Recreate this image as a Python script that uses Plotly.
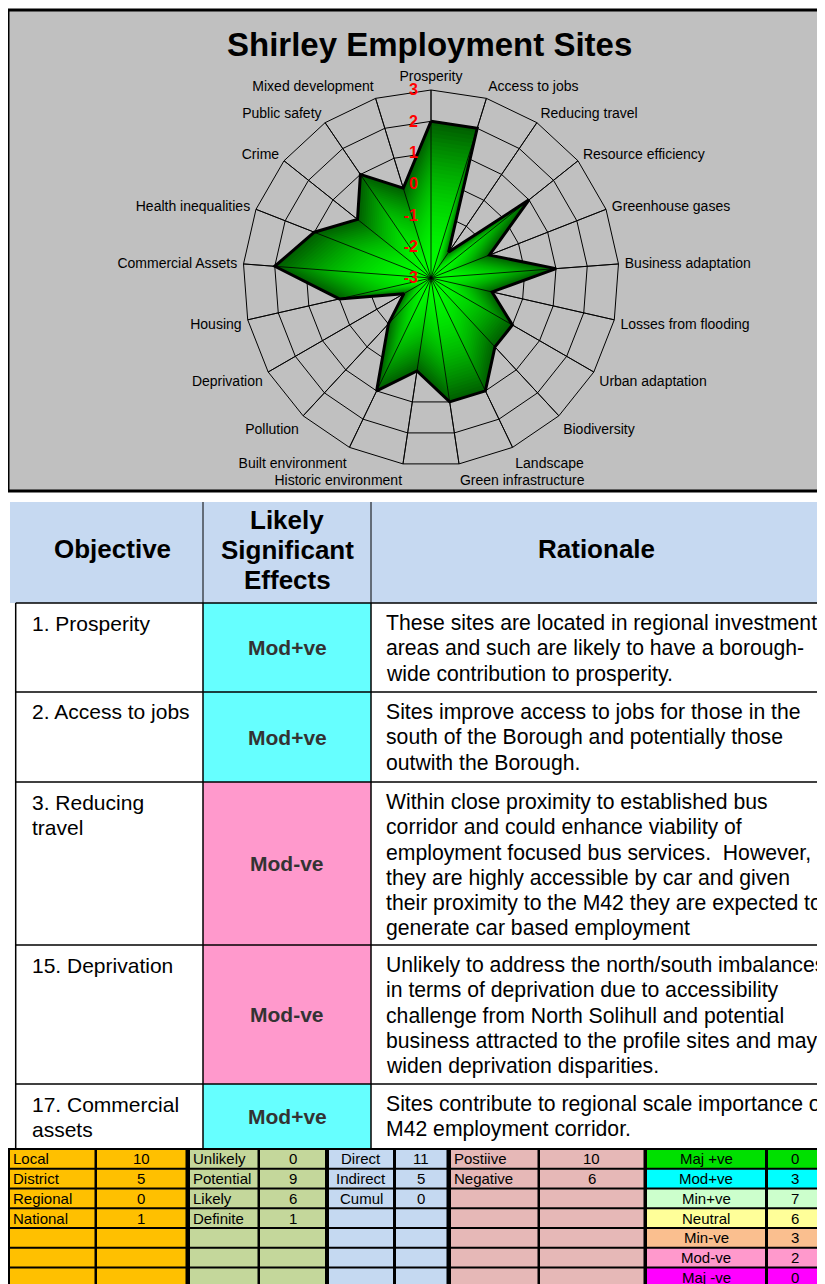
import plotly.graph_objects as go

W, H = 825, 1284
OFF = 8  # the page body margin shifts the figure by this many pixels

# ---- radar data ----
categories = ["Prosperity", "Access to jobs", "Reducing travel", "Resource efficiency",
              "Greenhouse gases", "Business adaptation", "Losses from flooding",
              "Urban adaptation", "Biodiversity", "Landscape", "Green infrastructure",
              "Historic environment", "Built environment", "Pollution", "Deprivation",
              "Housing", "Commercial Assets", "Health inequalities", "Crime",
              "Public safety", "Mixed development"]
scores = [2, 2, -2, 1, -1, 1, -1, 0, 0, 1, 1, 0, 1, -1, -2, 0, 2, 1, 0, 1, 0]
radial_ticks = [-3, -2, -1, 0, 1, 2, 3]

# ---- table data ----
objectives = ["1. Prosperity", "2. Access to jobs", "3. Reducing<br>travel",
              "15. Deprivation", "17. Commercial<br>assets"]
effects = ["Mod+ve", "Mod+ve", "Mod-ve", "Mod-ve", "Mod+ve"]
rationales = [
    "These sites are located in regional investment<br>areas and such are likely to have a borough-<br>wide contribution to prosperity.",
    "Sites improve access to jobs for those in the<br>south of the Borough and potentially those<br>outwith the Borough.",
    "Within close proximity to established bus<br>corridor and could enhance viability of<br>employment focused bus services.  However,<br>they are highly accessible by car and given<br>their proximity to the M42 they are expected to<br>generate car based employment",
    "Unlikely to address the north/south imbalances<br>in terms of deprivation due to accessibility<br>challenge from North Solihull and potential<br>business attracted to the profile sites and may<br>widen deprivation disparities.",
    "Sites contribute to regional scale importance of<br>M42 employment corridor.",
]

# ---- summary grid data ----
scope_labels = ["Local", "District", "Regional", "National"]
scope_counts = [10, 5, 0, 1]
likelihood_labels = ["Unlikely", "Potential", "Likely", "Definite"]
likelihood_counts = [0, 9, 6, 1]
type_labels = ["Direct", "Indirect", "Cumul"]
type_counts = [11, 5, 0]
direction_labels = ["Postiive", "Negative"]
direction_counts = [10, 6]
effect_labels = ["Maj +ve", "Mod+ve", "Min+ve", "Neutral", "Min-ve", "Mod-ve", "Maj -ve"]
effect_counts = [0, 3, 7, 6, 3, 2, 0]
effect_colors = ["#00E000", "#00FFFF", "#CCFFCC", "#FFFF99", "#FABF8F", "#FF99CC", "#FF00FF"]

FONT = "Liberation Sans, Arial, sans-serif"


def X(p):
    return (p - OFF) / W


def Y(p):
    return 1 - (p - OFF) / H


shapes = []
annotations = []


def rect(x0, y0, x1, y1, fill, line=None, lw=0):
    shapes.append(dict(type="rect", xref="paper", yref="paper",
                       x0=X(x0), x1=X(x1), y0=Y(y1), y1=Y(y0),
                       fillcolor=fill, layer="below",
                       line=dict(color=line or fill, width=lw)))


def hline(x0, x1, y, w=1.5):
    shapes.append(dict(type="line", xref="paper", yref="paper",
                       x0=X(x0), x1=X(x1), y0=Y(y), y1=Y(y),
                       line=dict(color="black", width=w), layer="above"))


def vline(x, y0, y1, w=1.5):
    shapes.append(dict(type="line", xref="paper", yref="paper",
                       x0=X(x), x1=X(x), y0=Y(y0), y1=Y(y1),
                       line=dict(color="black", width=w), layer="above"))


def text(x, y, s, size, xa="center", ya="middle", bold=False, color="black", align="center"):
    annotations.append(dict(xref="paper", yref="paper", x=X(x), y=Y(y), text=s,
                            showarrow=False, xanchor=xa, yanchor=ya, align=align,
                            font=dict(family=FONT, size=size, color=color,
                                      weight="bold" if bold else "normal")))


def lines(x, y, s, size, step, **kw):
    for k, part in enumerate(s.split("<br>")):
        text(x, y + k * step, part, size, **kw)


fig = go.Figure()

# caption and chart frame
text(0, 10, "Figure 11.2: Sustainability Appraisal: Shirley Employment Sites", 24,
     xa="left", ya="bottom", bold=True)
rect(8, 10, 840, 491, "#C0C0C0", "black", 3)
text(430, 45, "Shirley Employment Sites", 33, bold=True)

# radar: gradient fill built from scaled copies of the score polygon
cx, cy, R = 431, 278, 188
theta_closed = categories + [categories[0]]
N = 40
for k in range(N):
    f = 1 - k / N
    r = [-3 + (s + 3) * f for s in scores]
    g = int(255 - 160 * f ** 1.8)
    fig.add_trace(go.Scatterpolar(r=r + [r[0]], theta=theta_closed, mode="lines",
                                  fill="toself", fillcolor=f"rgb(0,{g},0)",
                                  line=dict(width=0, color=f"rgb(0,{g},0)"),
                                  hoverinfo="skip", showlegend=False))

spoke_r, spoke_t = [], []
for c in categories:
    spoke_r += [-3, 3, None]
    spoke_t += [c, c, c]
fig.add_trace(go.Scatterpolar(r=spoke_r, theta=spoke_t, mode="lines",
                              line=dict(color="black", width=0.8),
                              hoverinfo="skip", showlegend=False))
fig.add_trace(go.Scatterpolar(r=scores + [scores[0]], theta=theta_closed, mode="lines",
                              line=dict(color="black", width=3),
                              hoverinfo="skip", showlegend=False))

# assessment table
col_x = [15.7, 203, 371, 840]
row_tops = [603, 692, 782, 945, 1084, 1148]
rect(10, 502, 840, 603, "#C6D9F1")
vline(203, 502, 603, 1)
vline(371, 502, 603, 1)
text(113, 549, "Objective", 26, bold=True)
lines(287, 520, "Likely<br>Significant<br>Effects", 26, 30, bold=True)
text(596, 549, "Rationale", 26, bold=True)

cell_colors = {"Mod+ve": "#66FFFF", "Mod-ve": "#FF99CC"}
for i in range(len(objectives)):
    top, bot = row_tops[i], row_tops[i + 1]
    rect(203, top, 371, bot, cell_colors[effects[i]])
    hline(col_x[0], 840, top)
    lines(30, top + 20, objectives[i], 21, 25.3, xa="left")
    text(287, (top + bot) / 2, effects[i], 21, bold=True, color="#333333")
    lines(384, top + 20, rationales[i], 21.2, 25.3, xa="left")
for x in col_x[:3]:
    vline(x, 603, 1148)

# summary grid
rect(7, 1148, 840, 1300, "black")
row_h = 19.75
cols = [(10, 94.5), (97, 185.5), (190, 257.5), (260, 325), (329, 393),
        (396, 446.5), (451, 537.5), (540, 643.5), (647, 765), (768, 821)]
groups = [
    (scope_labels, scope_counts, "#FFC000", "left"),
    (likelihood_labels, likelihood_counts, "#C4D79B", "left"),
    (type_labels, type_counts, "#C5D9F1", "center"),
    (direction_labels, direction_counts, "#E6B8B7", "left"),
]
for gi, (labels, counts, color, la) in enumerate(groups):
    (a0, a1), (b0, b1) = cols[2 * gi], cols[2 * gi + 1]
    for r in range(7):
        t0 = 1150 + r * row_h
        t1 = t0 + 17.7
        rect(a0, t0, a1, t1, color)
        rect(b0, t0, b1, t1, color)
        if r < len(labels):
            if la == "left":
                text(a0 + 1, (t0 + t1) / 2, labels[r], 15, xa="left")
            else:
                text((a0 + a1) / 2, (t0 + t1) / 2, labels[r], 15)
            text((b0 + b1) / 2, (t0 + t1) / 2, str(counts[r]), 15)

(a0, a1), (b0, b1) = cols[8], cols[9]
for r in range(len(effect_labels)):
    t0 = 1150 + r * row_h
    t1 = t0 + 17.7
    rect(a0, t0, a1, t1, effect_colors[r])
    rect(b0, t0, b1, t1, effect_colors[r])
    text((a0 + a1) / 2, (t0 + t1) / 2, effect_labels[r], 15)
    text((b0 + b1) / 2, (t0 + t1) / 2, str(effect_counts[r]), 15)

fig.update_layout(
    width=W, height=H,
    margin=dict(l=0, r=0, t=0, b=0),
    paper_bgcolor="white",
    plot_bgcolor="white",
    shapes=shapes,
    annotations=annotations,
    polar=dict(
        domain=dict(x=[X(cx - R), X(cx + R)], y=[Y(cy + R), Y(cy - R)]),
        bgcolor="#C0C0C0",
        gridshape="linear",
        radialaxis=dict(range=[-3, 3], tickvals=radial_ticks,
                        ticktext=[str(t) for t in radial_ticks], showticklabels=True,
                        angle=90, tickangle=90, side="counterclockwise",
                        layer="above traces",
                        tickfont=dict(family=FONT, size=16, color="red", weight="bold"),
                        ticks="outside", ticklen=7, tickcolor="rgba(0,0,0,0)",
                        showline=False, gridcolor="black", gridwidth=1),
        angularaxis=dict(direction="clockwise", rotation=90, categoryorder="array",
                         categoryarray=categories, ticks="outside", ticklen=3,
                         tickcolor="rgba(0,0,0,0)", showline=True,
                         linecolor="black", linewidth=1, gridcolor="black", gridwidth=1,
                         tickfont=dict(family=FONT, size=14, color="black")),
    ),
)

fig.write_html("out.html")
